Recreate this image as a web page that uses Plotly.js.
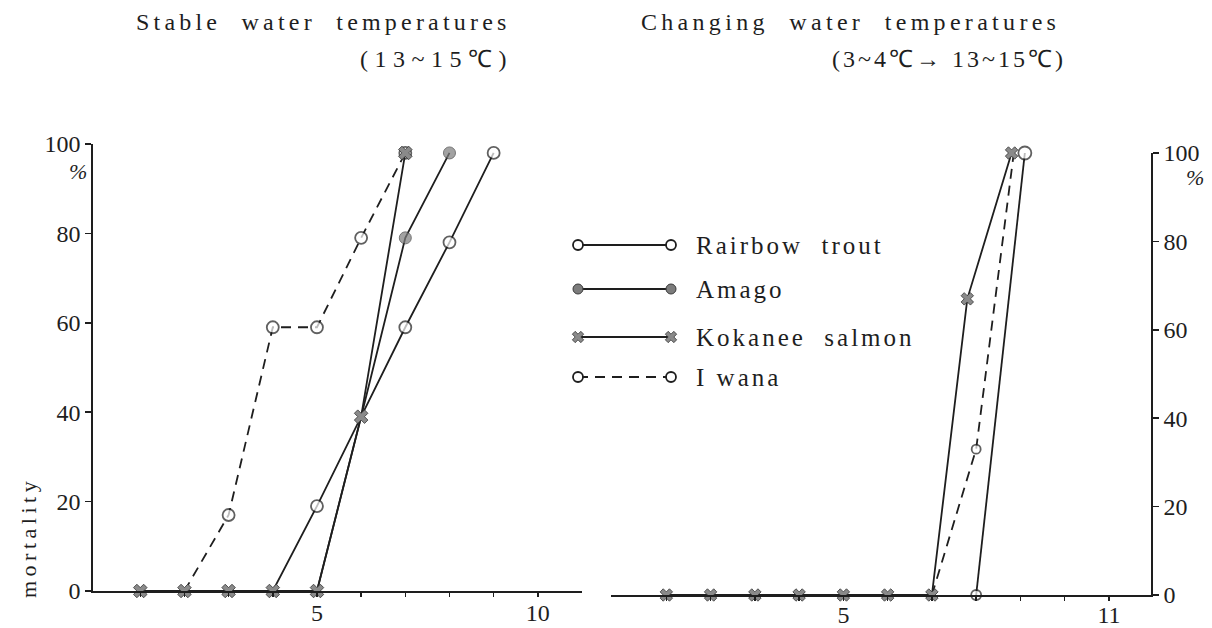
<!DOCTYPE html>
<html>
<head>
<meta charset="utf-8">
<script src="https://cdn.plot.ly/plotly-3.0.1.min.js"></script>
<style>
  html, body { margin: 0; padding: 0; background: #ffffff; }
  #chart { width: 1212px; height: 628px; }
</style>
</head>
<body>
<div id="chart"></div>
<script>
// ---- Stable water temperatures (13~15 C) ----
const stableRainbowX = [4, 5, 6, 7, 8, 9];
const stableRainbowY = [0, 19, 39, 59, 78, 98];
const stableAmagoX = [5, 6, 7, 8];
const stableAmagoY = [0, 39, 79, 98];
const stableKokaneeX = [1, 2, 3, 4, 5, 6, 7];
const stableKokaneeY = [0, 0, 0, 0, 0, 39, 98];
const stableIwanaX = [2, 3, 4, 5, 6, 7];
const stableIwanaY = [0, 17, 59, 59, 79, 98];

// ---- Changing water temperatures (3~4 C -> 13~15 C) ----
const changeRainbowX = [8, 9.1];
const changeRainbowY = [0, 100];
const changeKokaneeX = [1, 2, 3, 4, 5, 6, 7, 7.8, 8.8];
const changeKokaneeY = [0, 0, 0, 0, 0, 0, 0, 67, 100];
const changeIwanaX = [7, 8, 8.85];
const changeIwanaY = [0, 33, 100];

// ---- axis ticks and labels ----
const yTickVals = [0, 20, 40, 60, 80, 100];
const yTickText = ['0', '20', '40', '60', '80', '100'];
const stableXTickVals = [1, 2, 3, 4, 5, 6, 7, 8, 9, 10];
const stableXTickText = ['', '', '', '', '5', '', '', '', '', '10'];
const changeXTickVals = [1, 2, 3, 4, 5, 6, 7, 8, 9, 10, 11];
const changeXTickText = ['', '', '', '', '5', '', '', '', '', '', '11'];

const seriesNames = ['Rairbow\u00a0\u00a0trout', 'Amago', 'Kokanee\u00a0\u00a0salmon', 'I\u00a0wana'];
const titleStable = ['Stable\u00a0\u00a0water\u00a0\u00a0temperatures', '(13~15\u2103)'];
const titleChange = ['Changing\u00a0\u00a0water\u00a0\u00a0temperatures', '(3~4\u2103\u2192\u00a013~15\u2103)'];
const yTitle = 'mortality';
const unitLabel = '%';

// ---- page geometry (pixels) ----
const W = 1212, H = 628;
const FONT = 'Liberation Serif';
const INK = '#1e1e1e';
const px = v => v / W;
const py = v => 1 - v / H;
const spaced = (t, ls) => '<span style="letter-spacing:' + ls + 'px">' + t + '</span>';

// ---- mark styles ----
const lineSolid = { color: INK, width: 1.8 };
const lineDashed = { color: INK, width: 1.8, dash: '10px,7px' };
const openCircle = (size) => ({ symbol: 'circle', size: size, color: '#ffffff', line: { color: INK, width: 1.8 } });
const greyDot = (size) => ({ symbol: 'circle', size: size, color: '#7c7c7c', line: { color: '#3a3a3a', width: 1 } });
const crossMark = (size) => ({ symbol: 'x', size: size, color: '#8a8a8a', line: { color: '#333333', width: 0.8 } });

function series(x, y, xa, ya, line, marker) {
  return { type: 'scatter', mode: 'lines+markers', x: x, y: y, xaxis: xa, yaxis: ya,
           line: line, marker: marker, cliponaxis: false, showlegend: false, hoverinfo: 'skip' };
}

const traces = [
  // stable panel
  series(stableRainbowX, stableRainbowY, 'x', 'y', lineSolid, Object.assign(openCircle(12), { size: [0, 12, 0, 12, 12, 12] })),
  series(stableAmagoX, stableAmagoY, 'x', 'y', lineSolid, Object.assign(greyDot(12), { size: [0, 0, 12, 12] })),
  series(stableIwanaX, stableIwanaY, 'x', 'y', lineDashed, Object.assign(openCircle(12), { size: [0, 12, 12, 12, 12, 12] })),
  series(stableKokaneeX, stableKokaneeY, 'x', 'y', lineSolid, crossMark(12)),
  // changing panel
  series(changeRainbowX, changeRainbowY, 'x2', 'y2', lineSolid, Object.assign(openCircle(12), { size: [10, 13] })),
  series(changeIwanaX, changeIwanaY, 'x2', 'y2', lineDashed, Object.assign(openCircle(9), { size: [0, 9, 0] })),
  series(changeKokaneeX, changeKokaneeY, 'x2', 'y2', lineSolid, crossMark(11))
];

// ---- hand-drawn style key (placed on a full-page pixel axis) ----
const keyRows = [245, 289, 337, 377];
const keyStyles = [
  [lineSolid, openCircle(10)],
  [lineSolid, greyDot(10)],
  [lineSolid, crossMark(10)],
  [lineDashed, openCircle(10)]
];
const keyX0 = 578, keyX1 = 671, keyTextX = 694;
keyRows.forEach((ry, i) => {
  traces.push({ type: 'scatter', mode: 'lines+markers', x: [keyX0, keyX1], y: [ry, ry],
    xaxis: 'x3', yaxis: 'y3', line: keyStyles[i][0], marker: keyStyles[i][1],
    cliponaxis: false, showlegend: false, hoverinfo: 'skip' });
});

const axisCommon = {
  showline: true, linecolor: INK, linewidth: 1.8, mirror: false,
  showgrid: false, zeroline: false,
  ticks: 'outside', tickcolor: INK, tickwidth: 1.5,
  tickfont: { family: FONT, size: 24, color: INK },
  fixedrange: true
};

const annotations = [];
function note(x, y, text, size, opts) {
  annotations.push(Object.assign({ xref: 'x3', yref: 'y3', x: x, y: y, text: text, showarrow: false,
    xanchor: 'left', yanchor: 'middle', font: { family: FONT, size: size, color: INK } }, opts || {}));
}
note(134, 22, spaced(titleStable[0], 4.2), 24);
note(358, 59, spaced(titleStable[1], 6.5), 24);
note(639, 22, spaced(titleChange[0], 4.3), 24);
note(830, 59, spaced(titleChange[1], 3), 24);
seriesNames.forEach((n, i) => note(keyTextX, keyRows[i], spaced(n, 3), 25));
note(78, 171, unitLabel, 22, { xanchor: 'center', font: { family: FONT, size: 22, color: INK, style: 'italic' } });
note(1195, 177, unitLabel, 22, { xanchor: 'center', font: { family: FONT, size: 22, color: INK, style: 'italic' } });
note(28, 538, spaced(yTitle, 4.5), 22, { xanchor: 'center', textangle: -90 });

const layout = {
  width: W, height: H,
  margin: { l: 0, r: 0, t: 0, b: 0 },
  paper_bgcolor: '#ffffff', plot_bgcolor: 'rgba(0,0,0,0)',
  showlegend: false,
  font: { family: FONT, color: INK },
  xaxis: Object.assign({}, axisCommon, {
    domain: [px(93), px(582)], range: [-0.07, 11], anchor: 'y',
    tickmode: 'array', tickvals: stableXTickVals, ticktext: stableXTickText, ticklen: 4,
    ticklabelstandoff: -5
  }),
  yaxis: Object.assign({}, axisCommon, {
    domain: [py(591), py(144)], range: [0, 100], anchor: 'x',
    tickmode: 'array', tickvals: yTickVals, ticktext: yTickText, ticklen: 6
  }),
  xaxis2: Object.assign({}, axisCommon, {
    domain: [px(611), px(1151)], range: [-0.25, 11.95], anchor: 'y2',
    tickmode: 'array', tickvals: changeXTickVals, ticktext: changeXTickText, ticklen: 4,
    ticklabelstandoff: -7
  }),
  yaxis2: Object.assign({}, axisCommon, {
    domain: [py(595), py(153)], range: [0, 100], anchor: 'x2', side: 'right',
    tickmode: 'array', tickvals: yTickVals, ticktext: yTickText, ticklen: 6
  }),
  xaxis3: { domain: [0, 1], range: [0, W], anchor: 'y3', visible: false, fixedrange: true },
  yaxis3: { domain: [0, 1], range: [H, 0], anchor: 'x3', visible: false, fixedrange: true },
  annotations: annotations
};

Plotly.newPlot('chart', traces, layout, { staticPlot: true, displayModeBar: false });
</script>
</body>
</html>
